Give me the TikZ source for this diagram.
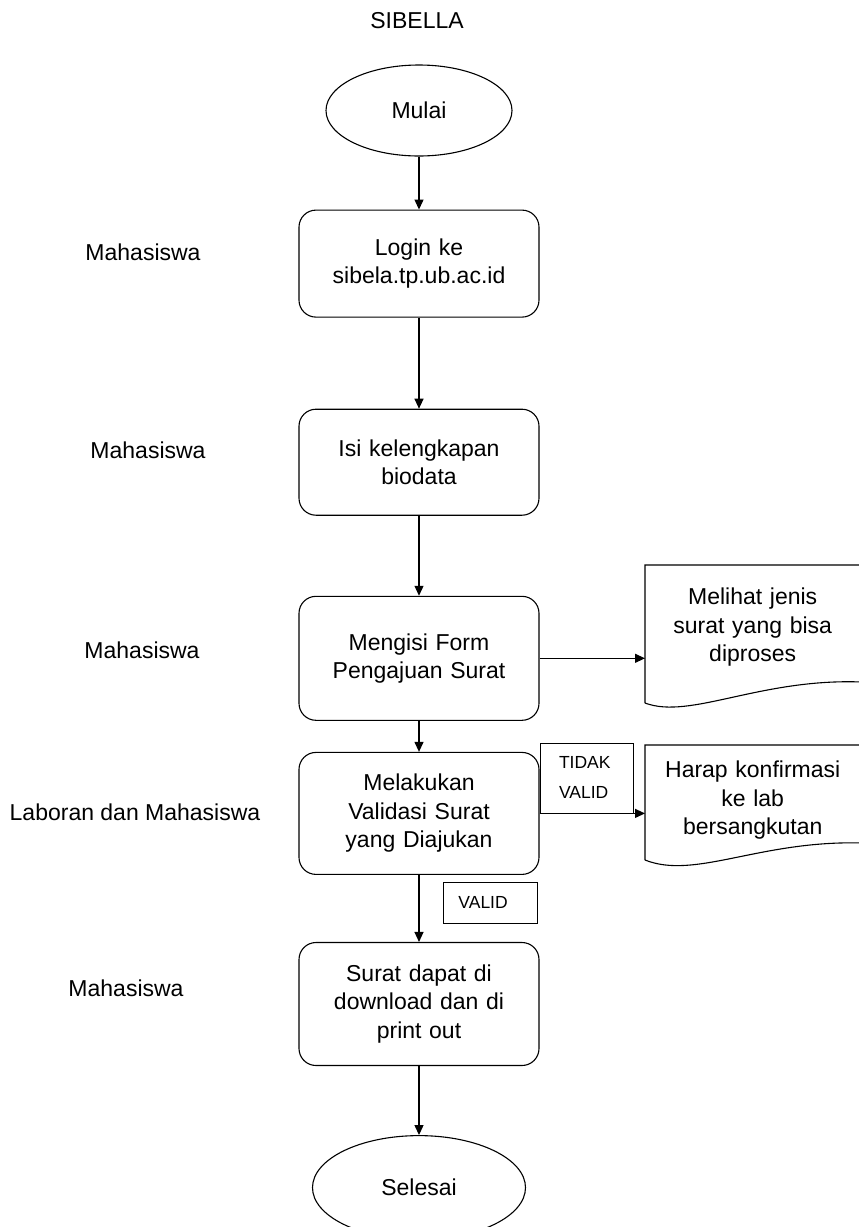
\documentclass[tikz,border=0pt]{standalone}
\usepackage{fontspec}
\setmainfont{Liberation Sans}
\usetikzlibrary{arrows.meta,positioning,shapes.geometric}
\newcommand{\flowfont}{\fontsize{23}{28.5}\selectfont}
\newcommand{\tagfont}{\fontsize{17.5}{30}\selectfont}
\tikzset{
  terminal/.style={
    ellipse,
    draw,
    line width=1.1pt,
    inner sep=0pt,
    font=\flowfont
  },
  procbox/.style={
    draw,
    line width=1.1pt,
    rounded corners=17pt,
    align=center,
    text width=225pt,
    minimum width=240pt,
    inner sep=0pt,
    font=\flowfont
  },
  docnode/.style={
    align=center,
    text width=205pt,
    minimum width=215pt,
    inner sep=0pt,
    anchor=north west,
    font=\flowfont
  },
  tagbox/.style={
    draw,
    line width=0.9pt,
    align=left,
    inner ysep=0pt,
    font=\tagfont
  },
  actor/.style={font=\flowfont},
  arrow/.style={-{Triangle[length=10pt,width=9pt]}, line width=1.2pt}
}

\begin{document}
\begin{tikzpicture}[x=1pt, y=-1pt, node distance=53pt]
  \clip (0,0) rectangle (859,1227);
  \node[actor] (title) at (417,21) {SIBELLA};

  \node[terminal, minimum width=186pt, minimum height=91pt] (mulai) at (419,110.5) {Mulai};
  \node[procbox, minimum height=107pt, below=53pt of mulai] (login) {Login ke\\sibela.tp.ub.ac.id};
  \node[procbox, minimum height=106pt, below=91pt of login] (isi) {Isi kelengkapan\\biodata};
  \node[procbox, minimum height=124pt, below=80pt of isi] (form) {Mengisi Form\\Pengajuan Surat};
  \node[procbox, minimum height=122pt, below=31pt of form] (validasi) {Melakukan\\Validasi Surat\\yang Diajukan};
  \node[procbox, minimum height=123pt, below=67pt of validasi] (unduh) {Surat dapat di\\download dan di\\print out};
  \node[terminal, minimum width=213pt, minimum height=104pt, below=69pt of unduh] (selesai) {Selesai};

  % roles on the left
  \node[actor] (aktor1) at (143,252) {Mahasiswa};
  \node[actor] (aktor2) at (148,450) {Mahasiswa};
  \node[actor] (aktor3) at (142,650) {Mahasiswa};
  \node[actor] (aktor4) at (135,812) {Laboran dan Mahasiswa};
  \node[actor] (aktor5) at (126,988) {Mahasiswa};

  % documents on the right
  \node[docnode, minimum height=124pt] (jenis) at (645,565) {Melihat jenis\\surat yang bisa\\diproses};
  \draw[line width=1.1pt] (645,703) -- (jenis.north west) -- (862,565) -- (862,682)
    .. controls (760,678) and (690,720) .. (645,703);
  \node[docnode, minimum height=110pt] (harap) at (645,745) {Harap konfirmasi\\ke lab\\bersangkutan};
  \draw[line width=1.1pt] (645,860) -- (harap.north west) -- (862,745) -- (862,843)
    .. controls (760,840) and (695,880) .. (645,860);

  \draw[arrow] (mulai.south) -- (login.north);
  \draw[arrow] (login.south) -- (isi.north);
  \draw[arrow] (isi.south) -- (form.north);
  \draw[arrow] (form.south) -- (validasi.north);
  \draw[arrow] (validasi.south) -- (unduh.north);
  \draw[arrow] (unduh.south) -- (selesai.north);
  \draw[arrow] (form.east) -- (form.east -| jenis.west);
  \draw[arrow] (validasi.east) -- (validasi.east -| harap.west);

  \node[tagbox, anchor=south west, inner xsep=19pt, text width=55pt, minimum height=70pt] (tidak) at (validasi.east) {TIDAK\\VALID};
  \node[tagbox, anchor=west, inner xsep=15pt, text width=64pt, minimum height=41pt] (valid) at (443,902.5) {VALID};
\end{tikzpicture}
\end{document}
